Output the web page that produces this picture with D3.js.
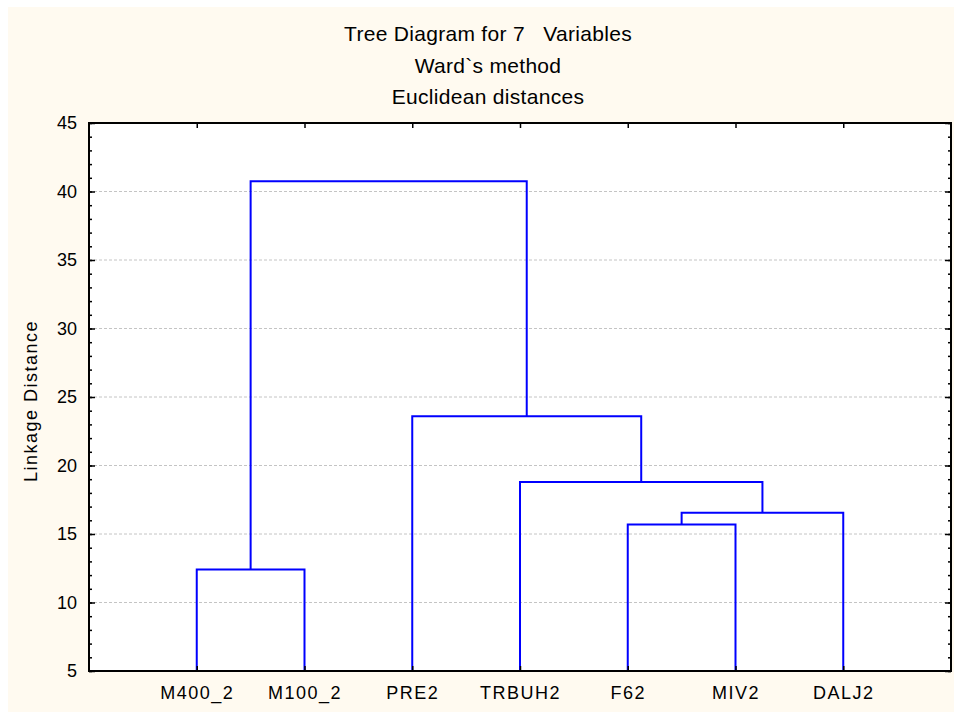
<!DOCTYPE html>
<html>
<head>
<meta charset="utf-8">
<script src="https://cdn.jsdelivr.net/npm/d3@7"></script>
<style>
  body { margin: 0; background: #fff; }
  text { font-family: "Liberation Sans", Arial, sans-serif; fill: #000; white-space: pre; }
</style>
</head>
<body>
<div id="chart"></div>
<script>
// ---- data ----
var titleLines = ["Tree Diagram for 7   Variables", "Ward`s method", "Euclidean distances"];
var yLabel = "Linkage Distance";
var leaves = ["M400_2", "M100_2", "PRE2", "TRBUH2", "F62", "MIV2", "DALJ2"];
// merges: left child, right child, linkage distance (C1..C6 = earlier merges)
var mergeLeft   = ["M400_2", "F62",  "C2",    "TRBUH2", "PRE2", "C1"];
var mergeRight  = ["M100_2", "MIV2", "DALJ2", "C3",     "C4",   "C5"];
var mergeHeight = [12.4,     15.7,   16.55,   18.8,     23.6,   40.75];
var yTicks = [5, 10, 15, 20, 25, 30, 35, 40, 45];

var width = 954, height = 713;
var pLeft = 89, pRight = 951, pTop = 123, pBottom = 671;

var svg = d3.select("#chart").append("svg")
    .attr("width", width).attr("height", height);

svg.append("rect").attr("x", 8).attr("y", 7)
    .attr("width", width - 8).attr("height", height - 8)
    .attr("fill", "#fffaf0");
svg.append("rect").attr("x", pLeft).attr("y", pTop)
    .attr("width", pRight - pLeft).attr("height", pBottom - pTop)
    .attr("fill", "#fff");

var x = d3.scalePoint().domain(leaves).range([pLeft, pRight]).padding(1);
var y = d3.scaleLinear().domain([5, 45]).range([pBottom, pTop]);

// grid
svg.append("g").selectAll("line").data(yTicks.slice(1, -1))
    .enter().append("line")
    .attr("x1", pLeft).attr("x2", pRight)
    .attr("y1", function(d){return y(d);}).attr("y2", function(d){return y(d);})
    .attr("stroke", "#c4c4c4").attr("stroke-width", 1)
    .attr("stroke-dasharray", "3,2");

// dendrogram
var nodes = {};
leaves.forEach(function(l){ nodes[l] = {x: x(l), h: 5}; });
var links = svg.append("g");
for (var i = 0; i < mergeHeight.length; i++) {
    var a = nodes[mergeLeft[i]], b = nodes[mergeRight[i]], h = mergeHeight[i];
    links.append("path")
        .attr("d", "M" + a.x + "," + y(a.h) + "V" + y(h) + "H" + b.x + "V" + y(b.h))
        .attr("fill", "none").attr("stroke", "#0000ff").attr("stroke-width", 2);
    nodes["C" + (i + 1)] = {x: (a.x + b.x) / 2, h: h};
}

// axes
function styleAxis(g) {
    g.select(".domain").remove();
    g.selectAll("line").attr("stroke", "#000").attr("stroke-width", 1.5);
}
var minor = d3.range(5, 46, 1);
svg.append("g").attr("transform", "translate(" + pLeft + ",0)")
    .call(d3.axisLeft(y).tickValues(minor).tickSize(-3).tickFormat(""))
    .call(styleAxis);
svg.append("g").attr("transform", "translate(" + pRight + ",0)")
    .call(d3.axisRight(y).tickValues(minor).tickSize(-3).tickFormat(""))
    .call(styleAxis);
svg.append("g").attr("transform", "translate(" + pLeft + ",0)")
    .call(d3.axisLeft(y).tickValues(yTicks).tickSize(-6).tickPadding(12))
    .call(styleAxis)
    .selectAll("text").style("font-size", "18px");
svg.append("g").attr("transform", "translate(" + pRight + ",0)")
    .call(d3.axisRight(y).tickValues(yTicks).tickSize(-6).tickFormat(""))
    .call(styleAxis);
svg.append("g").attr("transform", "translate(0," + pTop + ")")
    .call(d3.axisTop(x).tickSize(-5).tickFormat(""))
    .call(styleAxis);
svg.append("g").attr("transform", "translate(0," + pBottom + ")")
    .call(d3.axisBottom(x).tickSize(-5).tickPadding(15))
    .call(styleAxis)
    .selectAll("text").style("font-size", "18px").style("letter-spacing", "1.5px");

// frame
svg.append("rect").attr("x", pLeft).attr("y", pTop)
    .attr("width", pRight - pLeft).attr("height", pBottom - pTop)
    .attr("fill", "none").attr("stroke", "#000").attr("stroke-width", 2);

// titles
svg.append("g").selectAll("text").data(titleLines)
    .enter().append("text")
    .attr("x", 488).attr("y", function(d, i){return 41 + i * 31.5;})
    .attr("text-anchor", "middle").style("font-size", "21px").style("letter-spacing", "0.3px")
    .text(function(d){return d;});

svg.append("text")
    .attr("transform", "translate(37," + 401 + ") rotate(-90)")
    .attr("text-anchor", "middle").style("font-size", "18px").style("letter-spacing", "1.5px")
    .text(yLabel);
</script>
</body>
</html>
